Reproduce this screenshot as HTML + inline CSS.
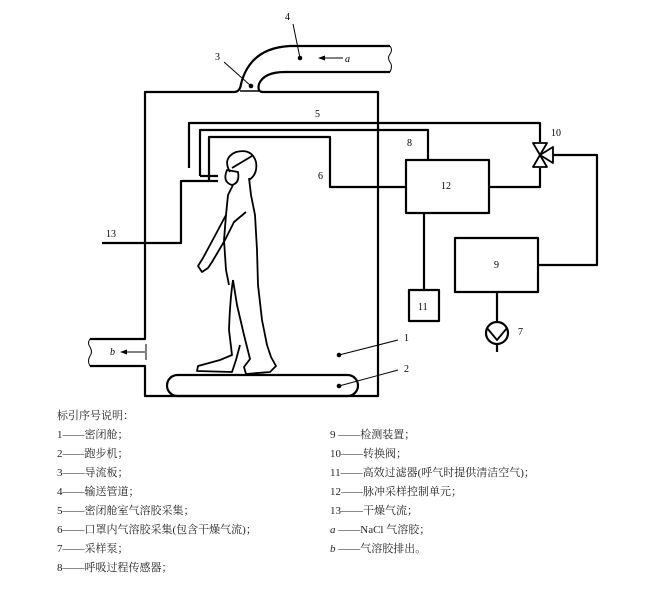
<!DOCTYPE html>
<html><head><meta charset="utf-8"><style>
html,body{margin:0;padding:0;background:#fff}
svg{display:block}
.t{font-family:"Liberation Serif","Noto Serif CJK SC",serif;font-size:10px;fill:#000}
.l{font-family:"Liberation Serif","Noto Serif CJK SC",serif;font-size:11px;fill:#222}
</style></head><body>
<svg width="671" height="590" viewBox="0 0 671 590" xmlns="http://www.w3.org/2000/svg">
<g fill="none" stroke="#000" stroke-width="2.2" stroke-linejoin="round">
<path d="M234 92 L145 92 L145 339 L90 339"/>
<path d="M90 366 L145 366 L145 396 L378 396 L378 92 L263 92"/>
<path d="M234 92 Q240 92 241 84 Q250 48 290 46 L390 46"/>
<path d="M263 92 Q257 92 259 84 Q264 72 285 72 L390 72"/>
<path d="M189 168 L189 123 L540 123 L540 142"/>
<path d="M200 176 L200 130 L428 130 L428 160"/>
<path d="M200 176 L218 176"/>
<path d="M209 180 L209 137 L330 137 L330 187 L406 187"/>
<path d="M489 187 L540 187 L540 168"/>
<path d="M553 155 L597 155 L597 265 L538 265"/>
<path d="M424 213 L424 290"/>
<path d="M497 292 L497 322"/>
<path d="M497 344 L497 352"/>
<path d="M102 243 L181 243 L181 181 L218 181"/>
<rect x="406" y="160" width="83" height="53"/>
<rect x="455" y="238" width="83" height="54"/>
<rect x="409" y="290" width="30" height="31"/>
<rect x="167" y="375" width="191" height="21" rx="10.5"/>
<circle cx="497" cy="333" r="11"/>
<path d="M487 328 L497 340 L507 328" stroke-width="1.8"/>
<path d="M533 143 L547 143 L540 155 Z M533 167 L547 167 L540 155 Z M540 155 L553 147 L553 163 Z" stroke-width="1.8"/>
</g>
<g fill="none" stroke="#000" stroke-width="1">
<path d="M390 46 q3 4 0 8 q-3 4 0 8 q3 4 0 10"/>
<path d="M90 339 q-3 4 0 8 q3 5 0 9 q-3 5 0 10"/>
<path d="M240 91 L259 91" stroke-width="1.5"/>
<path d="M224 62 L251 86"/>
<path d="M293 24 L300 58"/>
<path d="M343 58 L322 58"/>
<path d="M145 352 L124 352"/>
<path d="M146 344 L146 360"/>
<path d="M339 355 L398 340"/>
<path d="M339 386 L398 370"/>
</g>
<g fill="#000">
<circle cx="251" cy="86" r="2.3"/><circle cx="300" cy="58" r="2.3"/>
<circle cx="339" cy="355" r="2.3"/><circle cx="339" cy="386" r="2.3"/>
<path d="M318 58 L325 55.5 L325 60.5Z"/><path d="M120 352 L127 349.5 L127 354.5Z"/>
</g>
<g fill="none" stroke="#000" stroke-width="1.8" stroke-linejoin="round">
<path d="M230 172 Q222 158 236 152 Q252 148 256 162 Q258 174 249 180"/>
<path d="M227 170 Q222 182 232 185 Q240 183 238 172 Z"/>
<path d="M232 168 L252 156"/>
<path d="M249 178 L251 195 L255 215 L257 250 L258 285 L262 320 L267 345 L271 357 L276 366 L270 372 L246 374 L244 367 L250 359 L244 335 L237 305 L233 280"/>
<path d="M233 280 Q230 300 229 330 L232 355 L220 360 L198 366 L197 371 L232 372 L236 360 L240 345"/>
<path d="M233 185 L228 195 L226 215 L210 245 L203 258 L198 266 L202 272 L208 268 L212 262 L225 240 L234 222 L246 212"/>
<path d="M226 215 L224 240 L226 270 L229 285"/>
</g>
<g class="t">
<text x="215" y="60">3</text><text x="285" y="20">4</text>
<text x="345" y="62" font-style="italic">a</text>
<text x="110" y="355" font-style="italic">b</text>
<text x="315" y="117">5</text><text x="318" y="179">6</text>
<text x="407" y="146">8</text><text x="441" y="189">12</text>
<text x="551" y="136">10</text><text x="494" y="268">9</text>
<text x="418" y="310">11</text><text x="518" y="335">7</text>
<text x="106" y="237">13</text><text x="404" y="341">1</text><text x="404" y="372">2</text>
</g>
<g class="l">
<text x="57" y="419">标引序号说明：</text>
<text x="57" y="438">1——密闭舱；</text>
<text x="57" y="457">2——跑步机；</text>
<text x="57" y="476">3——导流板；</text>
<text x="57" y="495">4——输送管道；</text>
<text x="57" y="514">5——密闭舱室气溶胶采集；</text>
<text x="57" y="533">6——口罩内气溶胶采集(包含干燥气流)；</text>
<text x="57" y="552">7——采样泵；</text>
<text x="57" y="571">8——呼吸过程传感器；</text>
<text x="330" y="438">9 ——检测装置；</text>
<text x="330" y="457">10——转换阀；</text>
<text x="330" y="476">11——高效过滤器(呼气时提供清洁空气)；</text>
<text x="330" y="495">12——脉冲采样控制单元；</text>
<text x="330" y="514">13——干燥气流；</text>
<text x="330" y="533"><tspan font-style="italic">a</tspan> ——NaCl 气溶胶；</text>
<text x="330" y="552"><tspan font-style="italic">b</tspan> ——气溶胶排出。</text>
</g>
</svg>
</body></html>
